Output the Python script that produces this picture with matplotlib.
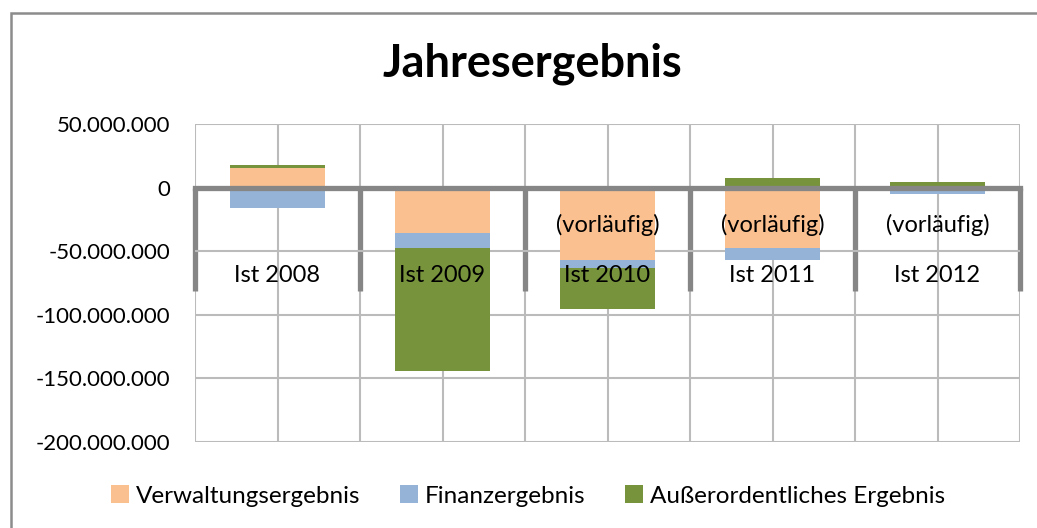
import matplotlib
matplotlib.use("Agg")
import matplotlib.pyplot as plt
import matplotlib.ticker as mticker
from matplotlib.patches import Rectangle
import numpy as np

plt.rcParams['font.family'] = ['Lato', 'DejaVu Sans']

years = ["Ist 2008", "Ist 2009", "Ist 2010", "Ist 2011", "Ist 2012"]
notes = ["", "", "(vorläufig)", "(vorläufig)", "(vorläufig)"]
series_names = ["Verwaltungsergebnis", "Finanzergebnis", "Außerordentliches Ergebnis"]
verwaltung = [15.2e6, -35.3e6, -56.8e6, -47.6e6, 0.0]
finanz = [-16.2e6, -12.3e6, -6.2e6, -9.2e6, -5.0e6]
ausserord = [3.1e6, -96.9e6, -32.8e6, 7.6e6, 4.2e6]
colors = ["#FAC090", "#95B3D7", "#77933C"]
y_ticks = [50e6, 0, -50e6, -100e6, -150e6, -200e6]

W, H = 1037, 528
fig = plt.figure(figsize=(W / 100, H / 100), dpi=100)
ax = fig.add_axes([195 / W, 1 - 441.7 / H, (1020 - 195) / W, (441.7 - 124.3) / H])

x = np.arange(len(years))
pos_bottom = np.zeros(len(years))
neg_bottom = np.zeros(len(years))
handles = []
for vals, name, col in zip([verwaltung, finanz, ausserord], series_names, colors):
    v = np.array(vals)
    bottoms = np.where(v >= 0, pos_bottom, neg_bottom)
    h = ax.bar(x, v, width=0.57, bottom=bottoms, color=col, label=name, zorder=2)
    handles.append(h)
    pos_bottom = pos_bottom + np.where(v >= 0, v, 0)
    neg_bottom = neg_bottom + np.where(v < 0, v, 0)

ax.set_xlim(-0.5, len(years) - 0.5)
ax.set_ylim(min(y_ticks), max(y_ticks))
ax.set_yticks(y_ticks)
ax.yaxis.set_major_formatter(mticker.FuncFormatter(lambda v, p: f"{int(v):,}".replace(",", ".")))
ax.tick_params(axis='y', length=0, pad=18, labelsize=16)

# category boundaries as major ticks, centres as minor
ax.set_xticks(np.arange(-0.5, len(years), 1.0))
ax.set_xticks(x, minor=True)
ax.set_xticklabels([])
ax.tick_params(axis='x', which='major', direction='out', length=74, width=3.8, color="#868686")
ax.tick_params(axis='x', which='minor', length=0)

ax.grid(True, which='both', axis='x', color="#BBBBBB", linewidth=1.5, zorder=0)
ax.grid(True, which='major', axis='y', color="#BBBBBB", linewidth=1.5, zorder=0)
ax.set_axisbelow(True)

for s in ['top', 'right', 'left']:
    ax.spines[s].set_visible(False)
ax.spines['bottom'].set_position(('data', 0))
ax.spines['bottom'].set_color("#868686")
ax.spines['bottom'].set_linewidth(3.8)
ax.spines['bottom'].set_zorder(3)

trans = ax.get_xaxis_transform()
for i, (lab, note) in enumerate(zip(years, notes)):
    ax.text(i, 0.525, lab, transform=trans, ha='center', va='center', fontsize=17, zorder=5)
    if note:
        ax.text(i, 0.683, note, transform=trans, ha='center', va='center', fontsize=17, zorder=5)

fig.text(532 / W, 1 - 64 / H, "Jahresergebnis", ha='center', va='center', fontsize=32.5, fontweight='bold')

leg = fig.legend(handles=handles, labels=series_names, loc='center',
                 bbox_to_anchor=(528 / W, 1 - 496 / H), ncol=3, frameon=False,
                 fontsize=17.5, handlelength=0.75, handleheight=0.75, handletextpad=0.3,
                 columnspacing=1.6)

# outer chart border (top and left visible, cropped elsewhere)
fig.patches.append(Rectangle((10.5 / W, -0.1), 1.2, 1 - 13 / H + 0.1, transform=fig.transFigure,
                             fill=False, edgecolor="#8C8C8C", linewidth=1.8))

fig.savefig("out.png", dpi=100)
